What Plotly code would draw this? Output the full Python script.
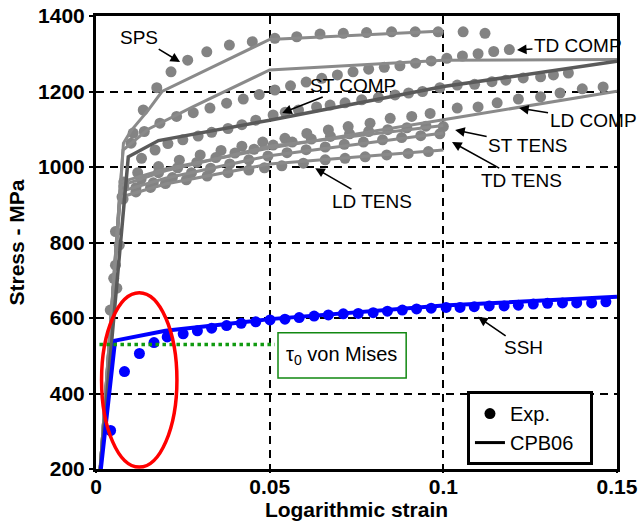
import plotly.graph_objects as go

# ---------------- experimental data (logarithmic strain, stress in MPa) ----------------
sps_strain_exp = [0.0056, 0.0107, 0.0136, 0.0175, 0.0216, 0.0264, 0.0319, 0.0384, 0.045, 0.0515,
                  0.0578, 0.0645, 0.0712, 0.0779, 0.0851, 0.0919, 0.0985, 0.1057, 0.112]
sps_stress_exp = [829, 1090, 1151, 1210, 1252, 1283, 1305, 1323, 1332, 1341,
                  1345, 1352, 1354, 1356, 1358, 1358, 1358, 1358, 1354]

tdc_strain_exp = [0.0067, 0.0101, 0.0139, 0.0184, 0.0232, 0.028, 0.0328, 0.0376, 0.0424, 0.047,
                  0.0515, 0.056, 0.0605, 0.065, 0.0695, 0.074, 0.0785, 0.083, 0.0875, 0.092,
                  0.0965, 0.101, 0.1055, 0.11, 0.1145, 0.119]
tdc_stress_exp = [793, 1063, 1094, 1116, 1134, 1144, 1156, 1169, 1180, 1192,
                  1204, 1215, 1225, 1235, 1244, 1252, 1259, 1264, 1268, 1275,
                  1281, 1288, 1294, 1300, 1306, 1311]

stc_strain_exp = [0.0056, 0.0131, 0.017, 0.0207, 0.025, 0.0294, 0.0333, 0.038, 0.042, 0.046,
                  0.051, 0.0545, 0.0583, 0.0635, 0.0674, 0.0717, 0.0765, 0.0813, 0.0861, 0.09,
                  0.094, 0.099, 0.104, 0.109, 0.114, 0.118, 0.123, 0.128, 0.1317, 0.136]
stc_stress_exp = [740, 1023, 1045, 1062, 1072, 1082, 1092, 1102, 1112, 1124,
                  1138, 1145, 1151, 1159, 1164, 1170, 1178, 1184, 1191, 1196,
                  1200, 1210, 1217, 1219, 1226, 1230, 1236, 1239, 1244, 1249]

ldc_strain_exp = [0.0051, 0.008, 0.012, 0.018, 0.024, 0.03, 0.036, 0.042, 0.048, 0.0544,
                  0.0607, 0.0669, 0.0726, 0.0789, 0.0847, 0.0909, 0.0962, 0.104, 0.11, 0.1155,
                  0.1216, 0.128, 0.1336, 0.14, 0.146]
ldc_stress_exp = [705, 960, 985, 1001, 1018, 1032, 1044, 1055, 1066, 1076,
                  1089, 1098, 1107, 1116, 1129, 1134, 1142, 1156, 1159, 1170,
                  1180, 1186, 1196, 1207, 1212]

stt_strain_exp = [0.006, 0.008, 0.013, 0.018, 0.0235, 0.029, 0.0345, 0.04, 0.0455, 0.051,
                  0.0565, 0.062, 0.0675, 0.073, 0.0785, 0.084, 0.0895, 0.095, 0.1]
stt_stress_exp = [679, 950, 968, 985, 998, 1012, 1025, 1037, 1047, 1058,
                  1066, 1074, 1081, 1088, 1094, 1099, 1104, 1108, 1107]

tdt_strain_exp = [0.0041, 0.0075, 0.0115, 0.0165, 0.022, 0.0275, 0.033, 0.0385, 0.044, 0.0495,
                  0.055, 0.0605, 0.066, 0.0715, 0.077, 0.0825, 0.088, 0.0935, 0.099]
tdt_stress_exp = [621, 921, 945, 958, 972, 985, 997, 1008, 1019, 1029,
                  1038, 1046, 1053, 1060, 1066, 1072, 1078, 1083, 1088]

ldt_strain_exp = [0.0078, 0.0115, 0.0157, 0.02, 0.026, 0.032, 0.038, 0.044, 0.0485, 0.0535,
                  0.0597, 0.066, 0.0717, 0.0775, 0.0837, 0.0899, 0.0957]
ldt_stress_exp = [915, 934, 946, 956, 966, 976, 985, 992, 998, 1003,
                  1010, 1019, 1023, 1027, 1032, 1036, 1041]

ssh_strain_exp = [0.0042, 0.0082, 0.0125, 0.0167, 0.0205, 0.0251, 0.0292, 0.0333, 0.0376, 0.0418,
                  0.046, 0.0501, 0.0544, 0.0585, 0.0628, 0.0669, 0.0712, 0.0755, 0.0798, 0.0839,
                  0.0882, 0.0923, 0.0965, 0.1008, 0.1048, 0.1089, 0.1132, 0.1175, 0.1216, 0.1259,
                  0.13, 0.1343, 0.1384, 0.1427, 0.1468]
ssh_stress_exp = [302, 458, 506, 535, 550, 558, 566, 573, 580, 586,
                  590, 595, 597, 601, 605, 608, 611, 612, 614, 618,
                  621, 624, 626, 628, 628, 630, 632, 632, 634, 637,
                  639, 640, 640, 640, 643]

# ---------------- CPB06 model curves ----------------
sps_strain_mod = [0.0012, 0.0079, 0.01, 0.015, 0.019, 0.05, 0.1]
sps_stress_mod = [200, 1063, 1095, 1150, 1200, 1338, 1360]

tdc_strain_mod = [0.0012, 0.0078, 0.015, 0.028, 0.05, 0.1, 0.15]
tdc_stress_mod = [200, 1045, 1100, 1160, 1257, 1283, 1285]

stc_strain_mod = [0.0012, 0.0093, 0.018, 0.05, 0.1, 0.15]
stc_stress_mod = [200, 1027, 1070, 1124, 1213, 1280]

ldc_strain_mod = [0.0012, 0.0072, 0.02, 0.05, 0.1, 0.15]
ldc_stress_mod = [200, 960, 995, 1050, 1125, 1201]

stt_strain_mod = [0.0012, 0.007, 0.02, 0.05, 0.1]
stt_stress_mod = [200, 950, 990, 1055, 1110]

tdt_strain_mod = [0.0012, 0.007, 0.02, 0.05, 0.1]
tdt_stress_mod = [200, 935, 970, 1030, 1090]

ldt_strain_mod = [0.0012, 0.007, 0.02, 0.05, 0.1]
ldt_stress_mod = [200, 920, 955, 1008, 1045]

ssh_strain_mod = [0.0014, 0.0055, 0.02, 0.05, 0.1, 0.15]
ssh_stress_mod = [200, 540, 566, 597, 633, 656]

# von Mises initial yield level
tau0_strain = [0.001, 0.0515]
tau0_stress = [530, 530]

x_ticks = [0, 0.05, 0.1, 0.15]
x_ticktext = ["0", "0.05", "0.1", "0.15"]
y_ticks = [200, 400, 600, 800, 1000, 1200, 1400]

GRAY_DOT = "#838383"
GRAY_LINE = "#8a8a8a"
DARK_LINE = "#5a5a5a"
BLUE = "#0000ff"
FONT = "Liberation Sans, Arial, Helvetica, sans-serif"

fig = go.Figure()

gray_exp = [
    (sps_strain_exp, sps_stress_exp), (tdc_strain_exp, tdc_stress_exp),
    (stc_strain_exp, stc_stress_exp), (ldc_strain_exp, ldc_stress_exp),
    (stt_strain_exp, stt_stress_exp), (tdt_strain_exp, tdt_stress_exp),
    (ldt_strain_exp, ldt_stress_exp),
]
gray_mod = [
    (sps_strain_mod, sps_stress_mod), (tdc_strain_mod, tdc_stress_mod),
    (ldc_strain_mod, ldc_stress_mod), (stt_strain_mod, stt_stress_mod),
    (tdt_strain_mod, tdt_stress_mod), (ldt_strain_mod, ldt_stress_mod),
]

for xs, ys in gray_exp:
    fig.add_trace(go.Scatter(x=xs, y=ys, mode="markers", showlegend=False,
                             marker=dict(size=11, color=GRAY_DOT, line=dict(width=0))))
for xs, ys in gray_mod:
    fig.add_trace(go.Scatter(x=xs, y=ys, mode="lines", showlegend=False,
                             line=dict(color=GRAY_LINE, width=3)))
fig.add_trace(go.Scatter(x=stc_strain_mod, y=stc_stress_mod, mode="lines", showlegend=False,
                         line=dict(color=DARK_LINE, width=3.5)))

# SSH: blue experiment + model
fig.add_trace(go.Scatter(x=ssh_strain_exp, y=ssh_stress_exp, mode="markers", showlegend=False,
                         marker=dict(size=11, color=BLUE, line=dict(width=0))))
fig.add_trace(go.Scatter(x=ssh_strain_mod, y=ssh_stress_mod, mode="lines", showlegend=False,
                         line=dict(color=BLUE, width=4)))

# tau_0 von Mises level
fig.add_trace(go.Scatter(x=tau0_strain, y=tau0_stress, mode="lines", showlegend=False,
                         line=dict(color="#109a10", width=3.5, dash="dot")))

# legend entries
fig.add_trace(go.Scatter(x=[None], y=[None], mode="markers", name="Exp.",
                         marker=dict(size=11, color="black")))
fig.add_trace(go.Scatter(x=[None], y=[None], mode="lines", name="CPB06\u00a0\u00a0",
                         line=dict(color="black", width=3)))

# red ellipse around the initial yield region
fig.add_shape(type="circle", xref="x", yref="y", x0=0.0016, x1=0.0233, y0=205, y1=667,
              line=dict(color="#ff0000", width=3.5), layer="above")
# green box around the tau_0 label
fig.add_shape(type="rect", xref="x", yref="y", x0=0.0524, x1=0.0893, y0=441, y1=561,
              line=dict(color="#118811", width=1.5), fillcolor="white", layer="above")
fig.add_annotation(x=0.0708, y=501, xref="x", yref="y", showarrow=False,
                   text="τ<sub>0</sub> von Mises", font=dict(size=20, color="black", family=FONT))

labels = [
    ("SPS", 0.0242, 1278, -41, -25),
    ("ST COMP", 0.0536, 1143, 71, -28),
    ("TD COMP", 0.1212, 1310, 61, -4),
    ("LD COMP", 0.1218, 1156, 74, 12),
    ("ST TENS", 0.1034, 1098, 73, 15),
    ("TD TENS", 0.1025, 1066, 69, 38),
    ("LD TENS", 0.0631, 997, 57, 33),
    ("SSH", 0.11, 603, 45, 31),
]
for txt, x, y, ax, ay in labels:
    fig.add_annotation(x=x, y=y, xref="x", yref="y", text=txt, showarrow=True,
                       ax=ax, ay=ay, arrowhead=2, arrowsize=1.2, arrowwidth=1.6,
                       arrowcolor="black", font=dict(size=19, color="black", family=FONT))

axis_common = dict(showline=True, linecolor="black", linewidth=3, mirror=True,
                   showgrid=True, gridcolor="black", gridwidth=2, griddash="8px,6px",
                   zeroline=False, automargin=False,
                   tickfont=dict(size=21, color="black", family=FONT, weight="bold"))

fig.update_xaxes(range=[0, 0.15], tickvals=x_ticks, ticktext=x_ticktext,
                 ticks="outside", ticklen=1, tickwidth=2, tickcolor="black",
                 title=dict(text="Logarithmic strain", standoff=0,
                            font=dict(size=21, color="black", family=FONT, weight="bold")),
                 **axis_common)
try:
    # pull the strain tick labels a little closer to the axis line
    fig.update_xaxes(ticklabelstandoff=-4)
except (ValueError, TypeError):
    pass
fig.update_yaxes(range=[200, 1400], tickvals=y_ticks,
                 ticks="outside", ticklen=4, tickwidth=2, tickcolor="black",
                 title=dict(text="Stress - MPa", standoff=8,
                            font=dict(size=21, color="black", family=FONT, weight="bold")),
                 **axis_common)

fig.update_layout(
    width=640, height=527,
    margin=dict(l=96, r=23, t=16, b=58, autoexpand=False),
    plot_bgcolor="white", paper_bgcolor="white",
    legend=dict(x=0.712, y=0.172, xanchor="left", yanchor="top",
                bordercolor="black", borderwidth=3, bgcolor="white",
                font=dict(size=20, color="black", family=FONT), tracegroupgap=0),
)

fig.write_html("out.html")
